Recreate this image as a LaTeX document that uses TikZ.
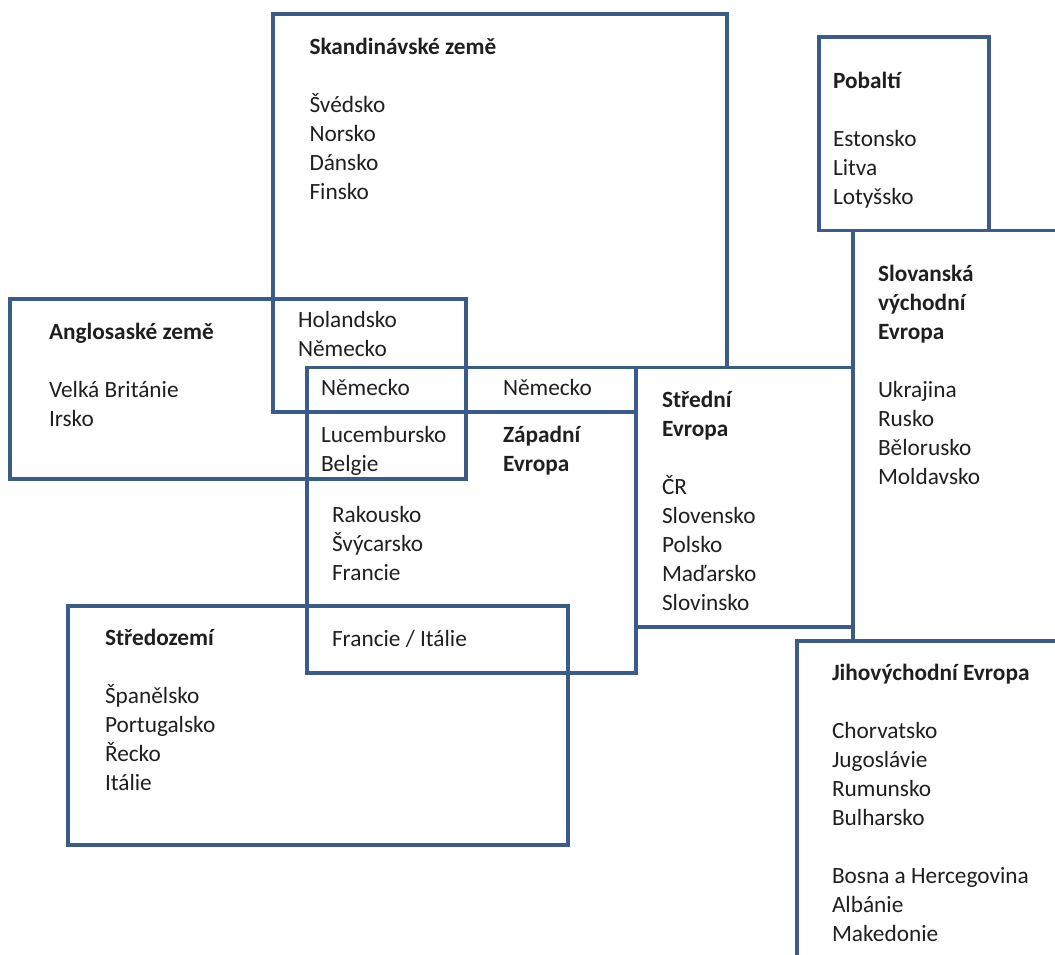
\documentclass[tikz,border=0pt]{standalone}
\usepackage{fontspec}
\setmainfont{Carlito}
\definecolor{frame}{HTML}{3B5B88}
% left-aligned stack of lines whose baseline is the first line
\newcommand{\stacklines}[1]{\begin{tabular}[t]{@{}l@{}}#1\end{tabular}}

\begin{document}
\begin{tikzpicture}[x=1pt,y=-1pt,
  region/.style={draw=frame, line width=3.5pt, line join=miter},
  cover/.style={region, fill=white},
  label/.style={anchor=base west, inner sep=0pt, outer sep=0pt,
    font=\fontsize{23.3}{29}\selectfont, text=black!88}]
\useasboundingbox (0,0) rectangle (1055,954);

% region frames
\begin{scope}
  \clip (0,0) rectangle (1055,954);
  \draw[region] (273,14) rectangle (727,412);      % Skandinávské země
  \draw[region] (10,299) rectangle (466,479);      % Anglosaské země
  \draw[region] (307,367.5) rectangle (636,673);   % Západní Evropa
  \draw[region] (68,606) rectangle (568,845);      % Středozemí
  \draw[cover]  (636,367.5) rectangle (853,627);   % Střední Evropa
  \draw[region] (853,230.5) rectangle (1075,700);  % Slovanská východní Evropa
  \draw[cover]  (819,37) rectangle (989,230.5);    % Pobaltí
  \draw[cover]  (797,641) rectangle (1075,975);    % Jihovýchodní Evropa
\end{scope}

% region contents
\node[label] (scand) at (309.5,54) {\stacklines{\textbf{Skandinávské země}\\ \\ Švédsko\\ Norsko\\ Dánsko\\ Finsko}};
\node[label] (balt) at (833,88) {\stacklines{\textbf{Pobaltí}\\ \\ Estonsko\\ Litva\\ Lotyšsko}};
\node[label] (slav) at (878,281) {\stacklines{\textbf{Slovanská}\\ \textbf{východní}\\ \textbf{Evropa}\\ \\ Ukrajina\\ Rusko\\ Bělorusko\\ Moldavsko}};
\node[label] (anglo) at (49,339) {\stacklines{\textbf{Anglosaské země}\\ \\ Velká Británie\\ Irsko}};
\node[label] (lowland) at (298,327) {\stacklines{Holandsko\\ Německo}};
\node[label] (deleft) at (321,395) {Německo};
\node[label] (deright) at (503,395) {Německo};
\node[label] (benelux) at (321,442) {\stacklines{Lucembursko\\ Belgie}};
\node[label] (west) at (503,442) {\stacklines{\textbf{Západní}\\ \textbf{Evropa}}};
\node[label] (alps) at (332,522) {\stacklines{Rakousko\\ Švýcarsko\\ Francie}};
\node[label] (frit) at (332,646) {Francie / Itálie};
\node[label] (med) at (105,645) {\stacklines{\textbf{Středozemí}\\ \\ Španělsko\\ Portugalsko\\ Řecko\\ Itálie}};
\node[label] (central) at (662,407) {\stacklines{\textbf{Střední}\\ \textbf{Evropa}\\ \\ ČR\\ Slovensko\\ Polsko\\ Maďarsko\\ Slovinsko}};
\node[label] (southeast) at (832,680) {\stacklines{\textbf{Jihovýchodní Evropa}\\ \\ Chorvatsko\\ Jugoslávie\\ Rumunsko\\ Bulharsko\\ \\ Bosna a Hercegovina\\ Albánie\\ Makedonie}};
\end{tikzpicture}
\end{document}
